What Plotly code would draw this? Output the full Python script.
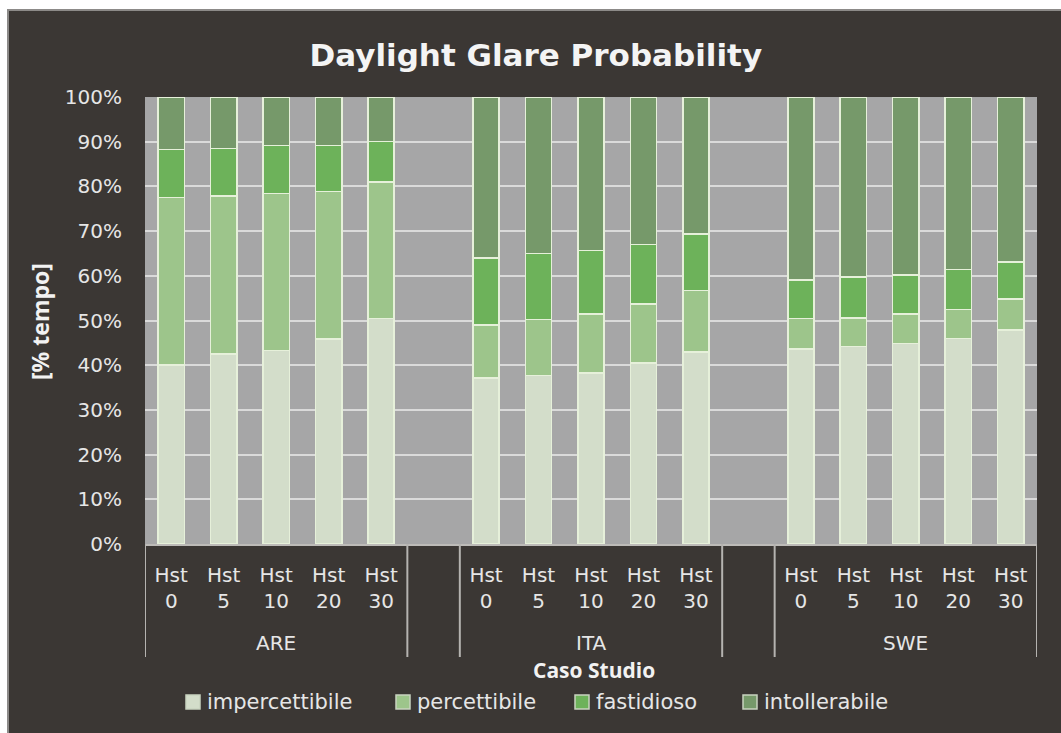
import plotly.graph_objects as go

groups = ["ARE", "ITA", "SWE"]
heights = ["0", "5", "10", "20", "30"]
series_names = ["impercettibile", "percettibile", "fastidioso", "intollerabile"]

impercettibile = [40.1, 42.5, 43.3, 45.9, 50.4,
                  37.1, 37.7, 38.3, 40.5, 43.0,
                  43.6, 44.2, 44.8, 46.0, 47.9]
percettibile = [37.4, 35.4, 35.1, 33.0, 30.6,
                11.9, 12.5, 13.2, 13.2, 13.7,
                6.9, 6.4, 6.7, 6.5, 6.9]
fastidioso = [10.8, 10.6, 10.8, 10.3, 9.1,
              15.0, 14.8, 14.2, 13.3, 12.7,
              8.6, 9.1, 8.7, 8.9, 8.3]
intollerabile = [11.7, 11.5, 10.8, 10.8, 9.9,
                 36.0, 35.0, 34.3, 33.0, 30.6,
                 40.9, 40.3, 39.8, 38.6, 36.9]

y_ticks = list(range(0, 101, 10))

colors = ["#d3ddca", "#9dc58b", "#6db25a", "#76996a"]
values = [impercettibile, percettibile, fastidioso, intollerabile]

# category positions: 5 bars per group, one blank slot between groups
xpos = [g * 6 + i for g in range(len(groups)) for i in range(len(heights))]
tick_text = ["Hst<br>" + h for g in groups for h in heights]

fig = go.Figure()
for name, col, vals in zip(series_names, colors, values):
    fig.add_trace(go.Bar(
        x=xpos, y=vals, name=name, width=0.5, showlegend=False,
        marker=dict(color=col, line=dict(color="#e6f0da", width=1.5)),
    ))

PAPER = "#3b3734"
L, R, T, B = 145, 1037, 97, 544
W, H = 1061, 733
FONT = "DejaVu Sans"
TXT = "#e6e6e6"

def px_x(p):
    return (p - L) / (R - L)

def px_y(p):
    return (B - p) / (B - T)

shapes = []
# white outer strips and frame
shapes.append(dict(type="rect", xref="paper", yref="paper",
                   x0=px_x(0), x1=px_x(W + 5), y0=px_y(-5), y1=px_y(9),
                   fillcolor="white", line=dict(width=0), layer="above"))
shapes.append(dict(type="rect", xref="paper", yref="paper",
                   x0=px_x(-5), x1=px_x(7), y0=px_y(W), y1=px_y(-5),
                   fillcolor="white", line=dict(width=0), layer="above"))
shapes.append(dict(type="line", xref="paper", yref="paper",
                   x0=px_x(7), x1=px_x(W + 5), y0=px_y(10), y1=px_y(10),
                   line=dict(color="#8c8a88", width=2)))
shapes.append(dict(type="line", xref="paper", yref="paper",
                   x0=px_x(8), x1=px_x(8), y0=px_y(10), y1=px_y(W),
                   line=dict(color="#8c8a88", width=2)))
# group dividers
for xd in [-0.5, 4.5, 5.5, 10.5, 11.5, 16.5]:
    shapes.append(dict(type="line", xref="x", yref="paper",
                       x0=xd, x1=xd, y0=0, y1=px_y(657),
                       line=dict(color="#b5b3b0", width=2)))

annotations = []
for g, name in enumerate(groups):
    annotations.append(dict(x=g * 6 + 2, xref="x", y=px_y(643), yref="paper",
                            text=name, showarrow=False,
                            font=dict(family=FONT, size=20, color=TXT),
                            xanchor="center", yanchor="middle"))
annotations.append(dict(x=px_x(594), xref="paper", y=px_y(670), yref="paper",
                        text="<b>Caso Studio</b>", showarrow=False,
                        font=dict(family="Open Sans", size=21, color="#f2f2f2"),
                        xanchor="center", yanchor="middle"))
annotations.append(dict(x=px_x(40), xref="paper", y=px_y(322), yref="paper",
                        text="<b>[% tempo]</b>", showarrow=False, textangle=-90,
                        font=dict(family="Open Sans", size=23, color="#f2f2f2"),
                        xanchor="center", yanchor="middle"))

# legend (drawn as swatches + text)
legend_x = [186, 396, 575, 743]
legend_y = 702
for name, col, lx in zip(series_names, colors, legend_x):
    shapes.append(dict(type="rect", xref="paper", yref="paper",
                       x0=px_x(lx), x1=px_x(lx + 14), y0=px_y(legend_y + 7), y1=px_y(legend_y - 7),
                       fillcolor=col, line=dict(color="#c9d3c0", width=1.5)))
    annotations.append(dict(x=px_x(lx + 19), xref="paper", y=px_y(legend_y), yref="paper",
                            text=name, showarrow=False,
                            font=dict(family=FONT, size=21, color=TXT),
                            xanchor="left", yanchor="middle"))

fig.update_layout(
    width=W, height=H,
    margin=dict(l=L, r=W - R, t=T, b=H - B, pad=0),
    paper_bgcolor=PAPER, plot_bgcolor="#a6a6a7",
    barmode="stack",
    title=dict(text="<b>Daylight Glare Probability</b>", x=0.505, xanchor="center",
               y=1 - 55 / H, yanchor="middle",
               font=dict(family=FONT, size=31, color="#f4f4f4")),
    xaxis=dict(range=[-0.5, 16.5], tickmode="array", tickvals=xpos, ticktext=tick_text,
               showgrid=False, zeroline=False, showline=True, linecolor="#bdbbb8", linewidth=2,
               ticks="", ticklabelstandoff=12,
               tickfont=dict(family=FONT, size=20, color=TXT),
               fixedrange=True),
    yaxis=dict(range=[0, 100], tickmode="array", tickvals=y_ticks,
               ticktext=[f"{v}%" for v in y_ticks],
               showgrid=True, gridcolor="#dadada", gridwidth=2, zeroline=False,
               ticks="", ticklabelstandoff=22,
               tickfont=dict(family=FONT, size=20, color=TXT)),
    shapes=shapes, annotations=annotations,
    showlegend=False,
)

fig.write_html("out.html", config={"displayModeBar": False},
               post_script="document.body.style.margin='0';document.body.style.overflow='hidden';")
